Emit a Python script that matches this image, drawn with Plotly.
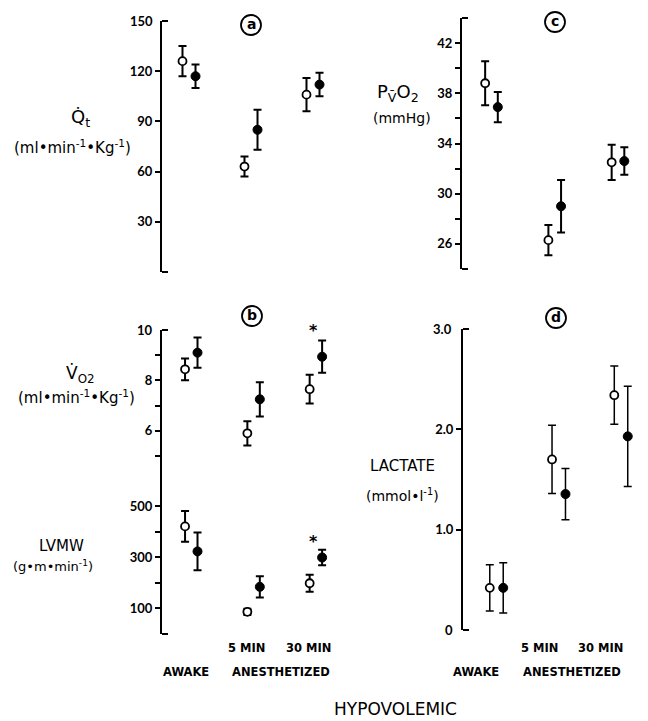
import plotly.graph_objects as go

# ---------------- data ----------------
groups = ["AWAKE", "5 MIN", "30 MIN"]
group_pos = [1, 2, 3]

qt_open = [126, 63, 106]
qt_open_err = [9, 6, 10]
qt_filled = [117, 85, 112]
qt_filled_err = [7, 12, 7]

pvo2_open = [38.8, 26.3, 32.5]
pvo2_open_err = [1.75, 1.2, 1.4]
pvo2_filled = [36.9, 29.0, 32.6]
pvo2_filled_err = [1.2, 2.1, 1.1]

vo2_open = [8.44, 5.9, 7.65]
vo2_open_err = [0.43, 0.48, 0.57]
vo2_filled = [9.1, 7.25, 8.94]
vo2_filled_err = [0.6, 0.68, 0.64]

lvmw_open = [420, 85, 197]
lvmw_open_err = [60, 12, 33]
lvmw_filled = [322, 183, 298]
lvmw_filled_err = [74, 42, 30]

lact_open = [0.42, 1.70, 2.34]
lact_open_err = [0.23, 0.34, 0.29]
lact_filled = [0.42, 1.355, 1.93]
lact_filled_err = [0.25, 0.255, 0.5]

pvo2_ticks = [26, 28, 30, 32, 34, 36, 38, 40, 42]

# ---------------- helpers ----------------
# The page body has a default 8px margin, so the figure is placed at (8, 8).
OFF = 8
W, H = 648 - OFF, 721 - OFF
def px(x):
    return (x - OFF) / W
def py(y):
    return 1 - (y - OFF) / H

TICKFONT = "Lato"
FONT = "DejaVu Sans"
fig = go.Figure()

def add_pair(xa, ya, opn, opn_err, fil, fil_err, off, thick=2.0, cap=4):
    xo = [g - off for g in group_pos]
    xf = [g + off for g in group_pos]
    fig.add_trace(go.Scatter(
        x=xo, y=opn, mode="markers", xaxis=xa, yaxis=ya, cliponaxis=False,
        marker=dict(symbol="circle", size=8, color="white",
                    line=dict(color="black", width=1.8)),
        error_y=dict(type="data", array=opn_err, color="black",
                     thickness=thick, width=cap),
        showlegend=False))
    fig.add_trace(go.Scatter(
        x=xf, y=fil, mode="markers", xaxis=xa, yaxis=ya, cliponaxis=False,
        marker=dict(symbol="circle", size=9, color="black",
                    line=dict(color="black", width=1)),
        error_y=dict(type="data", array=fil_err, color="black",
                     thickness=thick, width=cap),
        showlegend=False))

add_pair("x", "y", qt_open, qt_open_err, qt_filled, qt_filled_err, 0.105)
add_pair("x2", "y2", pvo2_open, pvo2_open_err, pvo2_filled, pvo2_filled_err, 0.10)
add_pair("x3", "y3", vo2_open, vo2_open_err, vo2_filled, vo2_filled_err, 0.10)
add_pair("x3", "y4", lvmw_open, lvmw_open_err, lvmw_filled, lvmw_filled_err, 0.10)
add_pair("x4", "y5", lact_open, lact_open_err, lact_filled, lact_filled_err, 0.108,
         thick=1.5, cap=4)

tickfont = dict(family=TICKFONT, size=13, color="black", weight="bold")

def yax(domain, rng, tickvals, ticktext, anchor, minor_vals):
    return dict(domain=domain, range=rng, anchor=anchor,
                showline=True, linecolor="black", linewidth=2,
                showgrid=False, zeroline=False,
                tickmode="array", tickvals=tickvals, ticktext=ticktext,
                ticks="outside", ticklen=5, tickwidth=1.5, tickcolor="black",
                tickfont=tickfont,
                minor=dict(tickmode="array", tickvals=minor_vals, ticks="inside",
                           ticklen=6, tickwidth=1.5, tickcolor="black"))

def xax(domain, rng, anchor):
    return dict(domain=domain, range=rng, anchor=anchor, visible=False)

fig.update_layout(
    width=W, height=H,
    margin=dict(l=0, r=0, t=0, b=0),
    paper_bgcolor="white", plot_bgcolor="white",
    font=dict(family=FONT, color="black"),
    showlegend=False,
    xaxis=xax([px(162), px(340)], [0.5645, 3.4355], "y"),
    xaxis2=xax([px(462), px(640)], [0.534, 3.348], "y2"),
    xaxis3=xax([px(162), px(340)], [0.530, 3.387], "y3"),
    xaxis4=xax([px(463), px(640)], [0.462, 3.305], "y5"),
    yaxis=yax([py(272), py(21)], [0, 150],
              [30, 60, 90, 120], ["30", "60", "90", "120"], "x", [0, 150]),
    yaxis2=yax([py(269), py(18)], [24, 44],
               pvo2_ticks, ["26", "", "30", "", "34", "", "38", "", "42"], "x2", [24, 44]),
    yaxis3=yax([py(480), py(330)], [4.048, 10],
               [5, 6, 7, 8, 9], ["", "6", "", "8", ""], "x3", [10]),
    yaxis4=yax([py(633.5), py(480)], [0, 602],
               [100, 200, 300, 400, 500], ["100", "", "300", "", "500"], "x3", [0]),
    yaxis5=yax([py(630), py(329)], [0, 3],
               [1, 2], ["1.0", "2.0"], "x4", [0, 3]),
)

ann = []
def text(x, y, t, size=13, bold=False, xanchor="center", yanchor="middle",
         family=FONT, **kw):
    ann.append(dict(x=px(x), y=py(y), xref="paper", yref="paper", text=t,
                    showarrow=False, xanchor=xanchor, yanchor=yanchor,
                    font=dict(family=family, size=size, color="black",
                              weight="bold" if bold else "normal"), **kw))

# labels at bracket ends of the axes
text(155, 21, "150", 13, True, xanchor="right", family=TICKFONT)
text(454, 329, "3.0", 13, True, xanchor="right", family=TICKFONT)
text(455, 630, "0", 13, True, xanchor="right", family=TICKFONT)
text(155, 330, "10", 13, True, xanchor="right", family=TICKFONT)

# y-axis titles
text(80, 118, "Q\u0307<sub>t</sub>", 18)
text(72, 147, "(ml\u2022min<sup>-1</sup>\u2022Kg<sup>-1</sup>)", 15)
text(398, 93, "P<sub>V\u0304</sub>O<sub>2</sub>", 18)
text(402, 118, "(mmHg)", 14)
text(80, 374, "V\u0307<sub>O2</sub>", 17)
text(76, 397, "(ml\u2022min<sup>-1</sup>\u2022Kg<sup>-1</sup>)", 15)
text(61, 546, "LVMW", 15)
text(53, 566, "(g\u2022m\u2022min<sup>-1</sup>)", 13)
text(402, 466, "LACTATE", 15)
text(402, 495, "(mmol\u2022l<sup>-1</sup>)", 14)

# group labels
text(246, 648, "5 MIN", 11.5, True)
text(308, 648, "30 MIN", 11.5, True)
text(186, 672, "AWAKE", 11.5, True)
text(281, 672, "ANESTHETIZED", 11.5, True)
text(539, 648, "5 MIN", 11.5, True)
text(600, 648, "30 MIN", 11.5, True)
text(476, 672, "AWAKE", 11.5, True)
text(572, 672, "ANESTHETIZED", 11.5, True)
text(395, 721, "HYPOVOLEMIC", 17, yanchor="bottom")

# panel letters
letters = [("a", 251, 25), ("c", 555, 22), ("b", 252, 316), ("d", 556, 318)]
shapes = []
for t, cx, cy in letters:
    r = 10
    shapes.append(dict(type="circle", xref="paper", yref="paper",
                       x0=px(cx - r), x1=px(cx + r), y0=py(cy + r), y1=py(cy - r),
                       line=dict(color="black", width=1.8)))
    text(cx, cy - 1, t, 14, True)

# significance asterisks
text(313, 330, "*", 16, True)
text(313, 541, "*", 16, True)

fig.update_layout(annotations=ann, shapes=shapes)
fig.write_html("out.html")
